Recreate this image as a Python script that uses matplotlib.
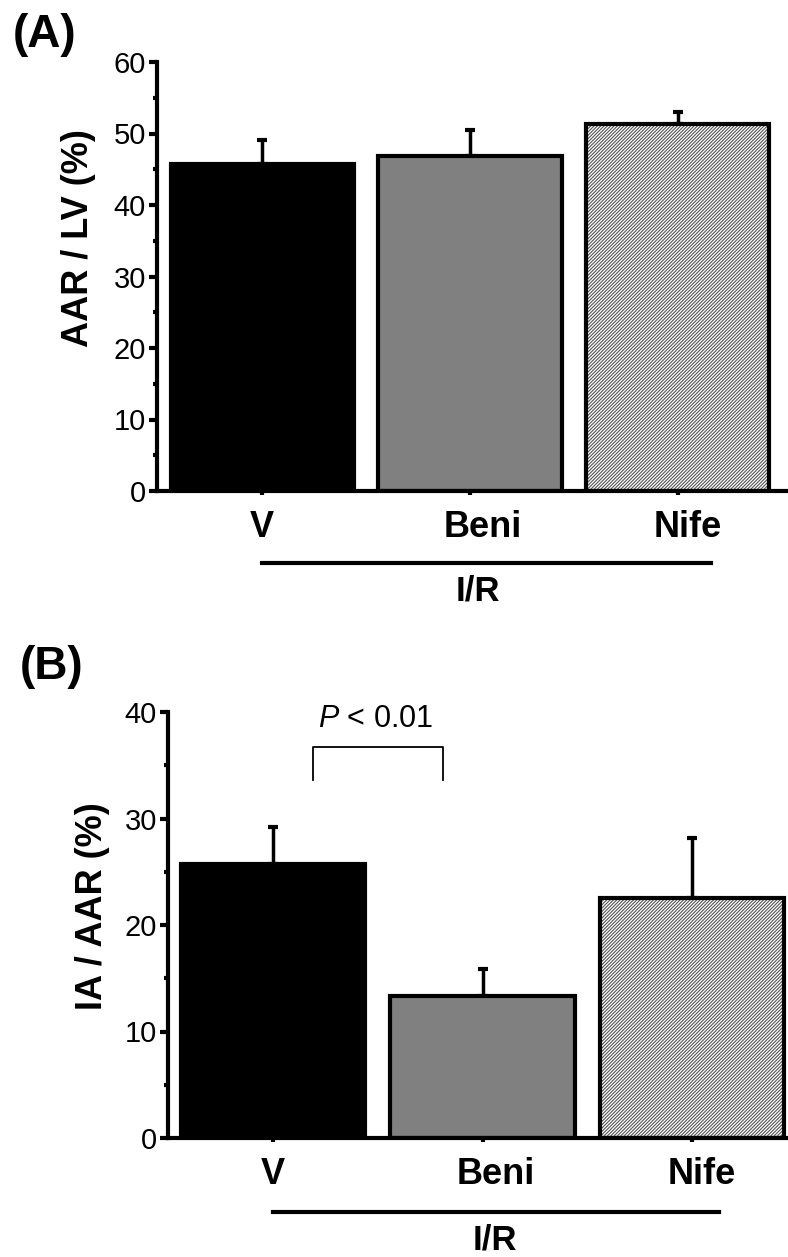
import matplotlib
matplotlib.use("Agg")
import matplotlib.pyplot as plt
import matplotlib.transforms as mtransforms
from matplotlib.ticker import MultipleLocator

plt.rcParams['font.family'] = ['Liberation Sans', 'DejaVu Sans']
plt.rcParams['mathtext.fontset'] = 'custom'
plt.rcParams['mathtext.it'] = 'Liberation Sans:italic'
plt.rcParams['mathtext.rm'] = 'Liberation Sans'
plt.rcParams['hatch.linewidth'] = 0.8

# data
groups = ['V', 'Beni', 'Nife']
aar_lv = [45.8, 46.9, 51.3]
aar_lv_sem = [3.3, 3.6, 1.7]
ia_aar = [25.7, 13.3, 22.5]
ia_aar_sem = [3.5, 2.6, 5.7]
p_text = '$P$ < 0.01'

fills = ['black', '#808080', 'white']
hatches = [None, None, '/' * 10]
label_shift = [0, 13, 10]   # px, the group names sit a little right of the ticks

W, H = 788, 1257
fig = plt.figure(figsize=(W / 100, H / 100), dpi=100)


def panel(rect, vals, errs, ymax, major, xlim):
    ax = fig.add_axes(rect)
    xs = list(range(len(groups)))
    for i in xs:
        if hatches[i]:
            ax.bar(i, vals[i], width=0.88, color='white', edgecolor='#555555',
                   hatch=hatches[i], linewidth=0, zorder=2)
            ax.bar(i, vals[i], width=0.88, fill=False, edgecolor='black',
                   linewidth=3, zorder=3)
        else:
            ax.bar(i, vals[i], width=0.88, color=fills[i], edgecolor='black',
                   linewidth=3, zorder=2)
    ax.errorbar(xs, vals, yerr=[[0] * len(errs), errs], fmt='none', ecolor='black',
                elinewidth=2.5, capsize=3.5, capthick=3, zorder=1)
    ax.set_xlim(*xlim)
    ax.set_ylim(0, ymax)
    ax.spines['top'].set_visible(False)
    ax.spines['right'].set_visible(False)
    ax.spines['left'].set_linewidth(3)
    ax.spines['bottom'].set_linewidth(3)
    ax.yaxis.set_major_locator(MultipleLocator(major))
    ax.yaxis.set_minor_locator(MultipleLocator(major / 2))
    ax.tick_params(axis='y', which='major', length=6, width=3, labelsize=21, pad=2)
    ax.tick_params(axis='y', which='minor', length=3, width=3)
    ax.set_xticks(xs)
    ax.set_xticklabels(groups, fontsize=26, fontweight='bold')
    ax.tick_params(axis='x', length=3, width=3, pad=11)
    for lab, dx in zip(ax.get_xticklabels(), label_shift):
        lab.set_transform(lab.get_transform() +
                          mtransforms.ScaledTranslation(dx / 100, 0, fig.dpi_scale_trans))
    return ax


axA = panel([157 / W, 1 - 491 / H, (W - 157) / W, 429 / H], aar_lv, aar_lv_sem,
            60, 10, (-0.505, 2.529))
axB = panel([168 / W, 1 - 1138 / H, (W - 168) / W, 426 / H], ia_aar, ia_aar_sem,
            40, 10, (-0.501, 2.458))

# I/R group lines
for ax, xr, yl, xt, yt in [(axA, 2.16, -0.168, 1.04, -0.232),
                           (axB, 2.13, -0.174, 1.06, -0.240)]:
    tr = mtransforms.blended_transform_factory(ax.transData, ax.transAxes)
    ax.plot([0, xr], [yl, yl], color='black', lw=3, transform=tr, clip_on=False)
    ax.text(xt, yt, 'I/R', transform=tr, ha='center', va='center',
            fontsize=25, fontweight='bold')

# significance bracket
axB.plot([0.19, 0.19, 0.81, 0.81], [33.6, 36.7, 36.7, 33.6], color='black', lw=1.3,
         clip_on=False)
axB.text(0.49, 37.9, p_text, ha='center', va='bottom', fontsize=22)

# y labels and panel letters
fig.text(79 / W, 1 - 238 / H, 'AAR / LV (%)', rotation=90, ha='center', va='center',
         fontsize=26, fontweight='bold')
fig.text(93 / W, 1 - 906 / H, 'IA / AAR (%)', rotation=90, ha='center', va='center',
         fontsize=26, fontweight='bold')
fig.text(45 / W, 1 - 35 / H, '(A)', ha='center', va='center', fontsize=33,
         fontweight='bold')
fig.text(52 / W, 1 - 667 / H, '(B)', ha='center', va='center', fontsize=33,
         fontweight='bold')

fig.savefig('out.png', dpi=100)
